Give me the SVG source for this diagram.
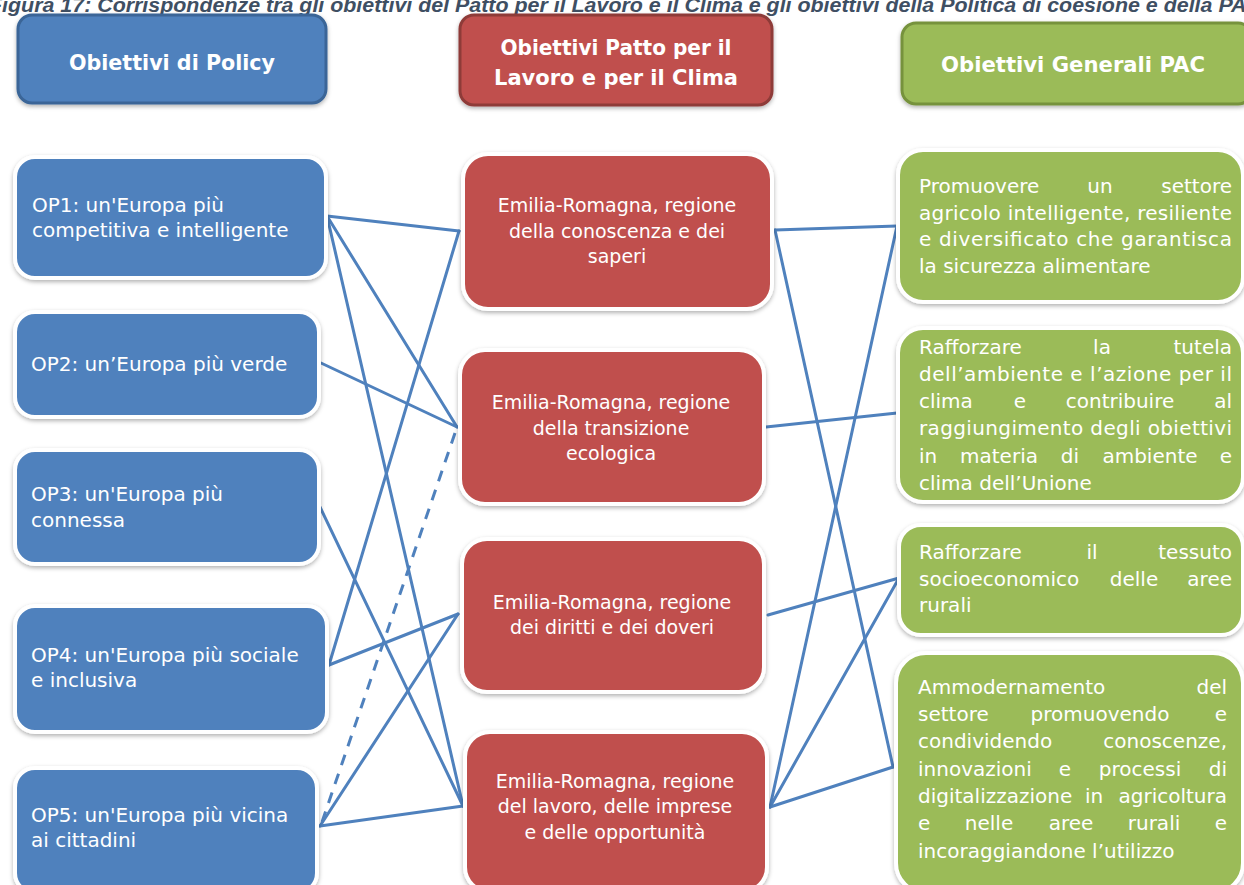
<svg xmlns="http://www.w3.org/2000/svg" width="1244" height="885" viewBox="0 0 1244 885">
<defs>
<filter id="sh" x="-10%" y="-10%" width="120%" height="130%">
<feDropShadow dx="0" dy="2" stdDeviation="2" flood-color="#000" flood-opacity="0.3"/>
</filter>
<style>
.title{font-family:"Liberation Sans",Arial,sans-serif;font-weight:bold;font-style:italic;font-size:20px;fill:#3F4F63}
.hdr{font-family:"DejaVu Sans",sans-serif;font-weight:bold;font-size:22px;fill:#fff}
.t{font-family:"DejaVu Sans",sans-serif;font-size:20px;fill:#fff}
.r{font-family:"DejaVu Sans",sans-serif;font-size:19px;fill:#fff;text-anchor:middle}
.m{text-anchor:middle}
.e{text-anchor:end}
.blue{fill:#4F81BD;stroke:#fff;stroke-width:4;filter:url(#sh)}
.red{fill:#C0504D;stroke:#fff;stroke-width:4;filter:url(#sh)}
.green{fill:#9BBB59;stroke:#fff;stroke-width:4;filter:url(#sh)}
.hb{fill:#4F81BD;stroke:#3A6597;stroke-width:3;filter:url(#sh)}
.hr{fill:#C0504D;stroke:#8E3B39;stroke-width:3;filter:url(#sh)}
.hg{fill:#9BBB59;stroke:#76923C;stroke-width:3;filter:url(#sh)}
.c{stroke:#4F81BD;stroke-width:3;fill:none;stroke-linecap:round}
.d{stroke-dasharray:11 9;stroke-linecap:butt}
</style>
</defs>
<rect width="1244" height="885" fill="#fff"/>
<text class="title" x="-11" y="12" textLength="1273" lengthAdjust="spacingAndGlyphs">Figura 17: Corrispondenze tra gli obiettivi del Patto per il Lavoro e il Clima e gli obiettivi della Politica di coesione e della PAC</text>

<g id="connectors">
<line class="c" x1="327" y1="216" x2="459" y2="231"/>
<line class="c" x1="327" y1="216" x2="457" y2="427"/>
<line class="c" x1="327" y1="216" x2="463" y2="806"/>
<line class="c" x1="321" y1="363" x2="457" y2="427"/>
<line class="c" x1="320" y1="507" x2="463" y2="806"/>
<line class="c" x1="459" y1="231" x2="329" y2="665"/>
<line class="c" x1="329" y1="665" x2="458" y2="614"/>
<line class="c" x1="320" y1="826" x2="458" y2="614"/>
<line class="c" x1="320" y1="826" x2="463" y2="806"/>
<line class="c d" x1="455" y1="433" x2="322" y2="822"/>
<line class="c" x1="775" y1="230" x2="897" y2="226"/>
<line class="c" x1="775" y1="230" x2="893" y2="767"/>
<line class="c" x1="897" y1="226" x2="770" y2="807"/>
<line class="c" x1="766" y1="427" x2="897" y2="413"/>
<line class="c" x1="768" y1="615" x2="899" y2="578"/>
<line class="c" x1="899" y1="578" x2="770" y2="807"/>
<line class="c" x1="770" y1="807" x2="893" y2="767"/>
</g>

<g id="hdr-policy">
<rect class="hb" x="18" y="15" width="308" height="88" rx="14"/>
<text class="hdr m" x="172" y="70" textLength="206" lengthAdjust="spacingAndGlyphs">Obiettivi di Policy</text>
</g>
<g id="hdr-patto">
<rect class="hr" x="460" y="15" width="312" height="90" rx="14"/>
<text class="hdr m" x="616" y="55" textLength="231" lengthAdjust="spacingAndGlyphs">Obiettivi Patto per il</text>
<text class="hdr m" x="616" y="85" textLength="244" lengthAdjust="spacingAndGlyphs">Lavoro e per il Clima</text>
</g>
<g id="hdr-pac">
<rect class="hg" x="902" y="23" width="350" height="81" rx="14"/>
<text class="hdr m" x="1073" y="72" textLength="264" lengthAdjust="spacingAndGlyphs">Obiettivi Generali PAC</text>
</g>

<g id="op1">
<rect class="blue" x="15" y="157" width="311" height="121" rx="20"/>
<text class="t" x="32" y="212">OP1: un'Europa più</text>
<text class="t" x="32" y="237">competitiva e intelligente</text>
</g>
<g id="op2">
<rect class="blue" x="15" y="312" width="304" height="105" rx="20"/>
<text class="t" x="31" y="371">OP2: un’Europa più verde</text>
</g>
<g id="op3">
<rect class="blue" x="15" y="450" width="304" height="114" rx="20"/>
<text class="t" x="31" y="501">OP3: un'Europa più</text>
<text class="t" x="31" y="527">connessa</text>
</g>
<g id="op4">
<rect class="blue" x="15" y="606" width="312" height="126" rx="20"/>
<text class="t" x="31" y="662">OP4: un'Europa più sociale</text>
<text class="t" x="31" y="687">e inclusiva</text>
</g>
<g id="op5">
<rect class="blue" x="15" y="768" width="302" height="125" rx="20"/>
<text class="t" x="31" y="822">OP5: un'Europa più vicina</text>
<text class="t" x="31" y="847">ai cittadini</text>
</g>

<g id="er1">
<rect class="red" x="463" y="154" width="309" height="155" rx="25"/>
<text class="r" x="617" y="212">Emilia-Romagna, regione</text>
<text class="r" x="617" y="238">della conoscenza e dei</text>
<text class="r" x="617" y="263">saperi</text>
</g>
<g id="er2">
<rect class="red" x="460" y="350" width="304" height="154" rx="25"/>
<text class="r" x="611" y="409">Emilia-Romagna, regione</text>
<text class="r" x="611" y="435">della transizione</text>
<text class="r" x="611" y="460">ecologica</text>
</g>
<g id="er3">
<rect class="red" x="462" y="539" width="302" height="153" rx="25"/>
<text class="r" x="612" y="609">Emilia-Romagna, regione</text>
<text class="r" x="612" y="634">dei diritti e dei doveri</text>
</g>
<g id="er4">
<rect class="red" x="465" y="732" width="302" height="160" rx="25"/>
<text class="r" x="615" y="788">Emilia-Romagna, regione</text>
<text class="r" x="615" y="813">del lavoro, delle imprese</text>
<text class="r" x="615" y="839">e delle opportunità</text>
</g>

<g id="pac1">
<rect class="green" x="898" y="150" width="345" height="152" rx="25"/>
<text class="t" x="919" y="193">Promuovere</text>
<text class="t m" x="1100" y="193">un</text>
<text class="t e" x="1232" y="193">settore</text>
<text class="t" x="919" y="220" textLength="313" lengthAdjust="spacing">agricolo intelligente, resiliente</text>
<text class="t" x="919" y="246" textLength="313" lengthAdjust="spacing">e diversificato che garantisca</text>
<text class="t" x="919" y="273">la sicurezza alimentare</text>
</g>
<g id="pac2">
<rect class="green" x="898" y="328" width="345" height="174" rx="25"/>
<text class="t" x="919" y="354">Rafforzare</text>
<text class="t m" x="1102" y="354">la</text>
<text class="t e" x="1232" y="354">tutela</text>
<text class="t" x="919" y="381" textLength="313" lengthAdjust="spacing">dell’ambiente e l’azione per il</text>
<text class="t" x="919" y="408">clima</text>
<text class="t m" x="1020" y="408">e</text>
<text class="t m" x="1120" y="408">contribuire</text>
<text class="t e" x="1232" y="408">al</text>
<text class="t" x="919" y="435" textLength="313" lengthAdjust="spacing">raggiungimento degli obiettivi</text>
<text class="t" x="919" y="463">in</text>
<text class="t m" x="999" y="463">materia</text>
<text class="t m" x="1070" y="463">di</text>
<text class="t m" x="1150" y="463">ambiente</text>
<text class="t e" x="1232" y="463">e</text>
<text class="t" x="919" y="490">clima dell’Unione</text>
</g>
<g id="pac3">
<rect class="green" x="899" y="525" width="344" height="110" rx="22"/>
<text class="t" x="919" y="559">Rafforzare</text>
<text class="t m" x="1092" y="559">il</text>
<text class="t e" x="1232" y="559">tessuto</text>
<text class="t" x="919" y="586">socioeconomico</text>
<text class="t m" x="1134" y="586">delle</text>
<text class="t e" x="1232" y="586">aree</text>
<text class="t" x="919" y="612">rurali</text>
</g>
<g id="pac4">
<rect class="green" x="896" y="653" width="347" height="240" rx="30"/>
<text class="t" x="918" y="694">Ammodernamento</text>
<text class="t e" x="1227" y="694">del</text>
<text class="t" x="918" y="721">settore</text>
<text class="t m" x="1100" y="721">promuovendo</text>
<text class="t e" x="1227" y="721">e</text>
<text class="t" x="918" y="748">condividendo</text>
<text class="t e" x="1227" y="748">conoscenze,</text>
<text class="t" x="918" y="776">innovazioni</text>
<text class="t m" x="1065" y="776">e</text>
<text class="t m" x="1140" y="776">processi</text>
<text class="t e" x="1227" y="776">di</text>
<text class="t" x="918" y="803">digitalizzazione</text>
<text class="t m" x="1094" y="803">in</text>
<text class="t e" x="1227" y="803">agricoltura</text>
<text class="t" x="918" y="830">e</text>
<text class="t m" x="989" y="830">nelle</text>
<text class="t m" x="1071" y="830">aree</text>
<text class="t m" x="1154" y="830">rurali</text>
<text class="t e" x="1227" y="830">e</text>
<text class="t" x="918" y="858">incoraggiandone l’utilizzo</text>
</g>
</svg>
